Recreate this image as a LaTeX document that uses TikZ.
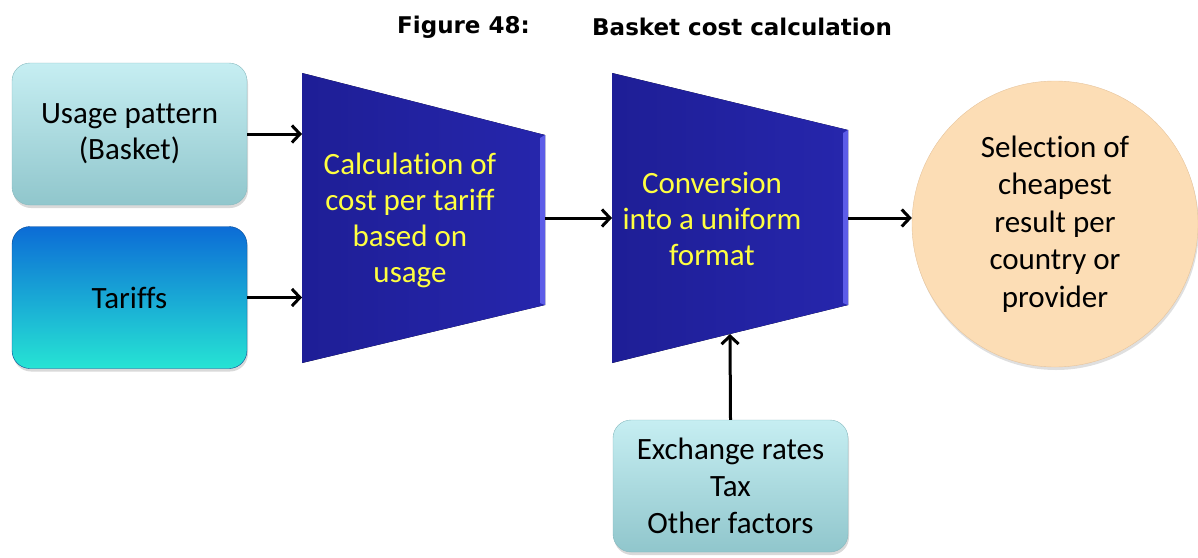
\documentclass[tikz,border=0pt]{standalone}
\usepackage{fontspec}
\setmainfont[Ligatures={NoCommon}]{Carlito}
\newfontfamily\capfont{DejaVu Sans}
\usepackage{tikz}
\usetikzlibrary{arrows.meta, positioning, calc, shadows}
\definecolor{usageTop}{HTML}{C6EEF2}
\definecolor{usageBot}{HTML}{90C6CC}
\definecolor{usageLine}{HTML}{86B9BE}
\definecolor{tariffTop}{HTML}{0C6CD6}
\definecolor{tariffMid}{HTML}{1AA6E6}
\definecolor{tariffBot}{HTML}{26E4D4}
\definecolor{trapDark}{HTML}{1E1E96}
\definecolor{trapLight}{HTML}{2626AC}
\definecolor{trapEdge}{HTML}{5C5CE8}
\definecolor{textYellow}{HTML}{FFFF40}
\definecolor{selFill}{HTML}{FCDDB5}
\definecolor{selLine}{HTML}{E6C49C}

\begin{document}
\begin{tikzpicture}[
    x=1pt, y=-1pt,
    inbox/.style={draw=usageLine, rounded corners=18pt, minimum width=235pt,
                  minimum height=142pt, align=center,
                  font=\fontsize{31}{36}\selectfont,
                  top color=usageTop, bottom color=usageBot,
                  drop shadow={shadow xshift=1pt, shadow yshift=-3pt, opacity=0.3}},
    trap/.style={left color=trapDark, right color=trapLight},
    traptext/.style={text=textYellow, align=center,
                     font=\fontsize{31}{36}\selectfont},
    caption/.style={font=\capfont\bfseries\fontsize{23}{26}\selectfont,
                    anchor=west, inner sep=0pt},
    arrow/.style={-{Straight Barb[length=8pt, width=17pt]}, line width=3pt},
]
\useasboundingbox (0,0) rectangle (1198,557);

% Caption
\node[caption] (figno) at (397,27) {Figure 48:};
\node[caption] (figtitle) at (592,27) {Basket cost calculation};

% Inputs
\node[inbox] (usage) at (129.5,134) {Usage pattern\\(Basket)};
\node[inbox, draw=tariffTop!70!black, top color=tariffTop,
      middle color=tariffMid, bottom color=tariffBot]
    (tariffs) at (129.5,297.5) {Tariffs};

% First stage
\coordinate (calcTL) at (302,73);
\coordinate (calcTR) at (545,135);
\coordinate (calcBR) at (545,305);
\coordinate (calcBL) at (302,363);
\fill[trap] (calcTL) -- (calcTR) -- (calcBR) -- (calcBL) -- cycle;
\fill[trapEdge] (calcTR) -- (calcBR) -- ($(calcBR)+(-5,-2)$) -- ($(calcTR)+(-5,3)$) -- cycle;
\node[traptext] (calc) at (410,220)
    {Calculation of\\cost per tariff\\based on\\usage};

% Second stage
\coordinate (convTL) at (612,73);
\coordinate (convTR) at (848,130);
\coordinate (convBR) at (848,305);
\coordinate (convBL) at (612,363);
\fill[trap] (convTL) -- (convTR) -- (convBR) -- (convBL) -- cycle;
\fill[trapEdge] (convTR) -- (convBR) -- ($(convBR)+(-5,-2)$) -- ($(convTR)+(-5,3)$) -- cycle;
\node[traptext] (conv) at (712,219)
    {Conversion\\into a uniform\\format};

% Result
\node[circle, draw=selLine, fill=selFill, minimum size=286pt, align=center,
      font=\fontsize{31}{37.5}\selectfont,
      drop shadow={shadow xshift=1pt, shadow yshift=-3pt, opacity=0.25}]
    (sel) at (1055,224)
    {Selection of\\cheapest\\result per\\country or\\provider};

% Other factors
\node[inbox, minimum height=132pt, font=\fontsize{31}{37}\selectfont]
    (rates) at (730.5,486) {Exchange rates\\Tax\\Other factors};

% Connectors
\coordinate (calcIn1) at (usage.east -| calcTL);
\coordinate (calcIn2) at (tariffs.east -| calcTL);
\coordinate (calcOut) at (545,218);
\coordinate (convIn) at (calcOut -| convTL);
\coordinate (convOut) at (calcOut -| convTR);
\coordinate (convBot) at ($(convBL)!0.5!(convBR)$);
\draw[arrow] (usage.east) -- (calcIn1);
\draw[arrow] (tariffs.east) -- (calcIn2);
\draw[arrow] (calcOut) -- (convIn);
\draw[arrow] (convOut) -- (convOut -| sel.west);
\draw[arrow] (rates.north) -- (convBot);
\end{tikzpicture}
\end{document}
